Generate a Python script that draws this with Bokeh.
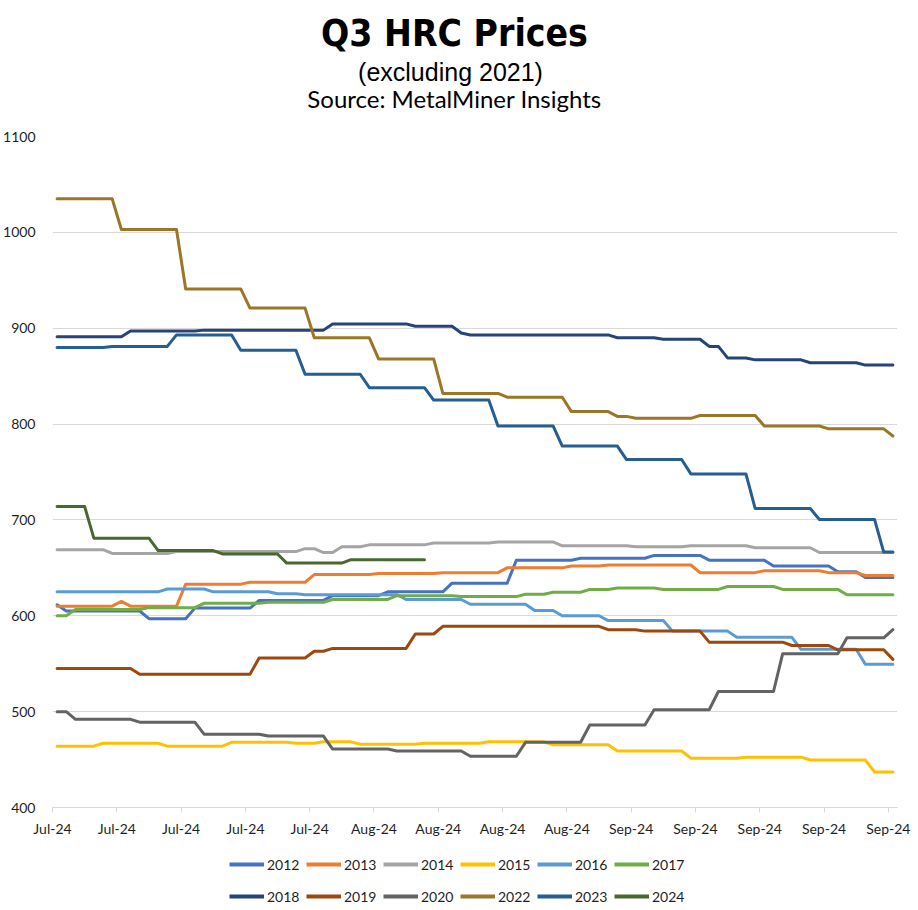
from bokeh.plotting import figure
from bokeh.models import Range1d, FixedTicker, Legend, LegendItem, Label
from bokeh.layouts import column
from bokeh.embed import file_html
from bokeh.resources import INLINE

# ---------------- data (day index 0 = Jul 1; each series: days where the price changes, new price) -------------
years = ["2012", "2013", "2014", "2015", "2016", "2017",
         "2018", "2019", "2020", "2022", "2023", "2024"]
colors = ["#4472C4", "#ED7D31", "#A5A5A5", "#FFC000", "#5B9BD5", "#70AD47",
          "#264478", "#9E480E", "#636363", "#9A7626", "#255E91", "#48692E"]

d2012 = [0, 1, 10, 15, 22, 30, 36, 43, 50, 57, 65, 71, 78, 85, 88]
v2012 = [611.5, 605, 597, 608, 616, 621, 625, 634, 658, 660, 663, 658, 652, 646, 640]

d2013 = [0, 7, 8, 14, 21, 28, 35, 42, 49, 56, 60, 70, 77, 84, 88]
v2013 = [610, 615, 610, 633, 635, 643, 644, 645, 650, 652, 653, 645, 647, 645, 642]

d2014 = [0, 6, 13, 27, 29, 31, 34, 41, 48, 55, 63, 69, 76, 83]
v2014 = [669, 665, 667, 670, 666, 672, 674, 676, 677, 673, 672, 673, 671, 666]

d2015 = [0, 5, 12, 19, 26, 29, 33, 40, 47, 54, 61, 69, 75, 82, 89]
v2015 = [464, 467, 464, 468, 467, 468.5, 466, 467, 468.5, 465.5, 459, 451.5, 452.5, 449.5, 437]

d2016 = [0, 12, 17, 24, 27, 38, 45, 52, 55, 60, 67, 74, 81, 88]
v2016 = [625, 628, 625, 623, 622, 617, 612, 605.5, 600, 595, 584, 577.5, 565, 549.5]

d2017 = [0, 2, 10, 16, 23, 30, 37, 44, 51, 54, 58, 61, 66, 73, 79, 86]
v2017 = [600, 606.5, 608.5, 613, 614, 617, 621, 620, 622.5, 624.5, 627.5, 629, 627.5, 630.5, 627.5, 622]

d2018 = [0, 8, 16, 30, 39, 44, 45, 61, 66, 71, 73, 76, 82, 88]
v2018 = [891, 897, 898, 904.5, 902, 895, 893, 890, 888.5, 881, 869, 867, 864, 861.5]

d2019 = [0, 9, 22, 28, 30, 39, 42, 60, 64, 71, 80, 85, 91]
v2019 = [545, 539, 556, 563, 566, 581, 589, 585.5, 584, 572.5, 569, 564.5, 554.5]

d2020 = [0, 2, 9, 16, 23, 30, 37, 45, 51, 58, 65, 72, 79, 86, 91]
v2020 = [500, 492, 489, 476.5, 474.5, 461, 459, 453.5, 468, 486, 502, 521, 560.5, 577, 585.5]

d2022 = [0, 7, 14, 21, 28, 35, 42, 49, 56, 61, 63, 70, 77, 84, 91]
v2022 = [1035, 1003, 941, 921, 890, 868, 832, 828, 813, 808, 806, 809, 798, 795, 787.5]

d2023 = [0, 6, 13, 20, 27, 34, 41, 48, 55, 62, 69, 76, 83, 90]
v2023 = [880, 881, 893, 877, 852, 838, 825, 798, 777, 763, 748, 712, 700.5, 666.5]

d2024 = [0, 4, 11, 18, 25, 32]
v2024 = [714, 681, 668, 664.5, 655, 658.5]

last_day = [91, 91, 91, 91, 91, 91, 91, 91, 91, 91, 91, 40]

change_days = [d2012, d2013, d2014, d2015, d2016, d2017, d2018, d2019, d2020, d2022, d2023, d2024]
change_vals = [v2012, v2013, v2014, v2015, v2016, v2017, v2018, v2019, v2020, v2022, v2023, v2024]

tick_labels = ["Jul-24"] * 5 + ["Aug-24"] * 4 + ["Sep-24"] * 5
y_ticks = [400, 500, 600, 700, 800, 900, 1000, 1100]

LBL = "Lato"
TXT = "#1f1f1f"


def step_vertices(days, vals, end):
    xs = [days[0]]
    ys = [vals[0]]
    for i in range(1, len(days)):
        xs += [days[i] - 1, days[i]]
        ys += [vals[i - 1], vals[i]]
    if end > xs[-1]:
        xs.append(end)
        ys.append(vals[-1])
    return xs, ys


# ---------------- heading (frame is aligned with the chart frame, left edge at x=51) ----------------
head = figure(width=918, height=126, output_backend="svg", toolbar_location=None,
              x_range=Range1d(0, 1), y_range=Range1d(0, 1),
              x_axis_location=None, y_axis_location=None, min_border=0)
head.outline_line_color = None
head.grid.visible = False
head.add_layout(Label(x=402, y=93, x_units="screen", y_units="screen",
                      text="Q3 HRC Prices", text_align="center", text_baseline="alphabetic",
                      text_font="'Liberation Sans Narrow', 'DejaVu Sans Condensed', sans-serif",
                      text_font_style="bold", text_font_size="37px", text_color="black"))
head.add_layout(Label(x=398, y=55, x_units="screen", y_units="screen",
                      text="(excluding 2021)", text_align="center", text_baseline="alphabetic",
                      text_font="Liberation Sans", text_font_size="25px", text_color="black"))
head.add_layout(Label(x=402, y=28, x_units="screen", y_units="screen",
                      text="Source: MetalMiner Insights", text_align="center", text_baseline="alphabetic",
                      text_font="Lato", text_font_size="24px", text_color="black"))

# ---------------- main chart ----------------
p = figure(width=918, height=724, output_backend="svg", toolbar_location=None,
           x_range=Range1d(-0.5, 91.5), y_range=Range1d(400, 1100),
           min_border_left=51, min_border_right=21, min_border_top=10, min_border_bottom=43)
p.outline_line_color = None
p.background_fill_color = "white"
p.border_fill_color = "white"

p.yaxis.ticker = FixedTicker(ticks=y_ticks)
p.yaxis.axis_line_color = None
p.yaxis.major_tick_line_color = None
p.yaxis.minor_tick_line_color = None
p.yaxis.major_tick_out = 0
p.yaxis.major_tick_in = 0
p.yaxis.major_label_standoff = 17
p.yaxis.major_label_text_font = LBL
p.yaxis.major_label_text_font_size = "14px"
p.yaxis.major_label_text_color = TXT

xt = [7 * k - 0.5 for k in range(len(tick_labels))]
p.xaxis.ticker = FixedTicker(ticks=xt)
p.xaxis.major_label_overrides = {t: lab for t, lab in zip(xt, tick_labels)}
p.xaxis.axis_line_color = "#D9D9D9"
p.xaxis.major_tick_line_color = "#D9D9D9"
p.xaxis.minor_tick_line_color = None
p.xaxis.major_tick_out = 5
p.xaxis.major_tick_in = 0
p.xaxis.major_label_standoff = 7
p.xaxis.major_label_text_font = LBL
p.xaxis.major_label_text_font_size = "14px"
p.xaxis.major_label_text_color = TXT

p.xgrid.visible = False
p.ygrid.grid_line_color = "#D9D9D9"
p.ygrid.grid_line_width = 1

for col, days, vals, end in zip(colors, change_days, change_vals, last_day):
    xs, ys = step_vertices(days, vals, end)
    p.line(xs, ys, line_color=col, line_width=3, line_join="round", line_cap="round")

# ---------------- legend strip (series re-drawn out of view so the legend has glyph styles) ----------------
foot = figure(width=918, height=60, output_backend="svg", toolbar_location=None,
              x_range=Range1d(0, 1), y_range=Range1d(0, 1),
              x_axis_location=None, y_axis_location=None, min_border=0)
foot.outline_line_color = None
foot.grid.visible = False
items = []
for yr, col, days, vals, end in zip(years, colors, change_days, change_vals, last_day):
    xs, ys = step_vertices(days, vals, end)
    r = foot.line(xs, ys, line_color=col, line_width=4)
    items.append(LegendItem(label=yr, renderers=[r]))
legend = Legend(items=items, orientation="horizontal", ncols=6,
                location=(177, 0), glyph_width=35, glyph_height=28,
                label_height=28, label_width=35, label_standoff=3, spacing=4,
                padding=0, margin=0, border_line_color=None, background_fill_alpha=0,
                label_text_font=LBL, label_text_font_size="14px", label_text_color=TXT)
foot.add_layout(legend, "center")

open("out.html", "w").write(file_html(column(head, p, foot, spacing=0), INLINE))
